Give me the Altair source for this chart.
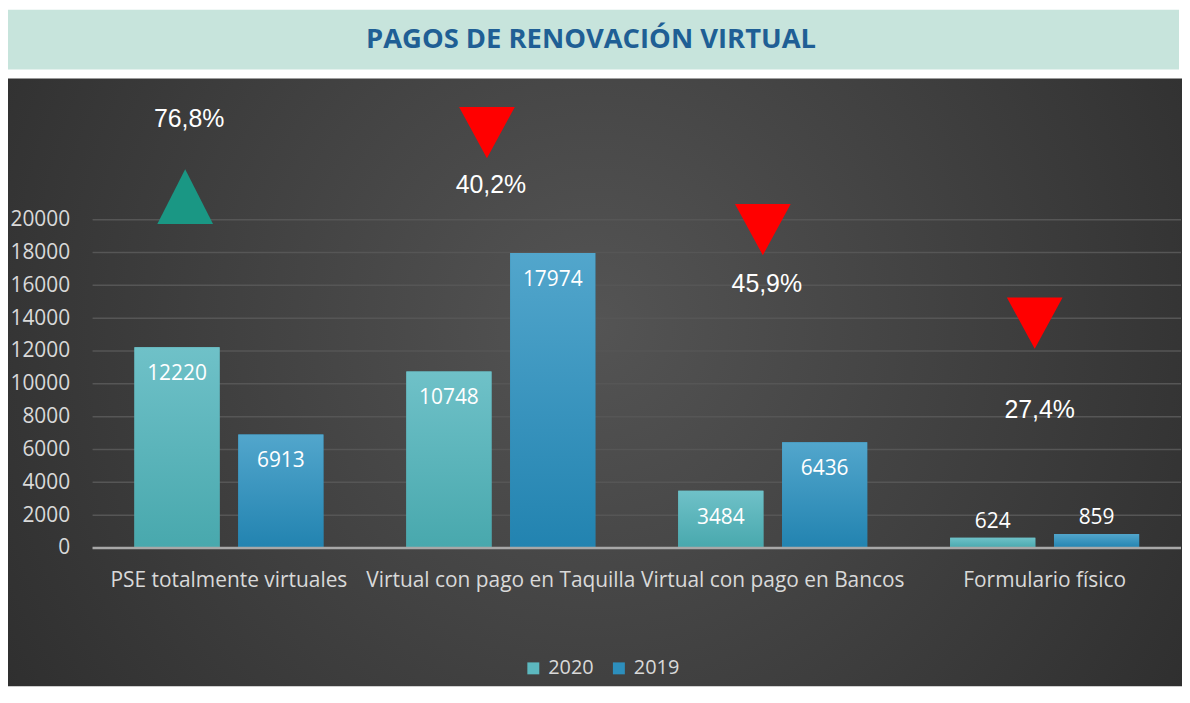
import altair as alt
import pandas as pd

# ---------------- data ----------------
titulo = "PAGOS DE RENOVACIÓN VIRTUAL"
categorias = ["PSE totalmente virtuales", "Virtual con pago en Taquilla",
              "Virtual con pago en Bancos", "Formulario físico"]
series = ["2020", "2019"]
valores_2020 = [12220, 10748, 3484, 624]
valores_2019 = [6913, 17974, 6436, 859]
y_ticks = [0, 2000, 4000, 6000, 8000, 10000, 12000, 14000, 16000, 18000, 20000]

variacion = ["76,8%", "40,2%", "45,9%", "27,4%"]
direccion = ["up", "down", "down", "down"]
# annotation placement (free-floating shapes in the original), px from group start
ann_label_y = [26100, 22100, 16100, 8400]
ann_tri_y = [21400, 25300, 19400, 13700]
ann_label_dx = [55, 85, 89, 90]
ann_tri_dx = [51, 81, 85, 85]

rows = []
for c, a, b in zip(categorias, valores_2020, valores_2019):
    rows.append({"cat": c, "serie": "2020", "valor": a})
    rows.append({"cat": c, "serie": "2019", "valor": b})
df = pd.DataFrame(rows)
ann = pd.DataFrame({"cat": categorias, "pct": variacion, "dir": direccion,
                    "ly": ann_label_y, "ty": ann_tri_y,
                    "ldx": ann_label_dx, "tdx": ann_tri_dx})
grid = pd.DataFrame({"v": y_ticks})

# ---------------- layout ----------------
W, H = 1094, 462
PAD_L, PAD_T, PAD_R, PAD_B = 85, 79, 1, 139
FONT = "Open Sans"
LBL = "#d9d9d9"

x_scale = alt.Scale(domain=categorias, paddingInner=0.305, paddingOuter=0.154)
xo_scale = alt.Scale(type="band", domain=series, paddingInner=0.18, paddingOuter=0)
y_scale = alt.Scale(domain=[0, 28000], nice=False, zero=True)

x_axis = alt.Axis(title=None, labelAngle=0, labelFont=FONT, labelFontSize=21,
                  labelColor=LBL, labelPadding=22, labelLimit=0, labelOverlap=False,
                  domain=False, ticks=False, grid=False, zindex=1)
y_axis = alt.Axis(title=None, values=y_ticks, labelFont=FONT, labelFontSize=21,
                  labelColor=LBL, labelPadding=23, domain=False, ticks=False,
                  grid=False, zindex=1, format="d")

X = alt.X("cat:N", scale=x_scale, axis=x_axis, sort=categorias)
XO = alt.XOffset("serie:N", scale=xo_scale, sort=series)
Y = alt.Y("valor:Q", scale=y_scale, axis=y_axis)

one = alt.Data(values=[{"t": titulo}])

bg = alt.Chart(one).mark_rect(
    fill=alt.RadialGradient(gradient="radial",
                            stops=[alt.GradientStop(offset=0, color="#545454"),
                                   alt.GradientStop(offset=1, color="#252525")],
                            x1=0.5, y1=0.45, r1=0, x2=0.5, y2=0.45, r2=0.75)
).encode(x=alt.value(-PAD_L), x2=alt.value(W + 1), y=alt.value(-10), y2=alt.value(601))

banner = alt.Chart(one).mark_rect(fill="#c7e4dc").encode(
    x=alt.value(-PAD_L), x2=alt.value(1092), y=alt.value(-79), y2=alt.value(-19))

title = alt.Chart(one).mark_text(font=FONT, fontWeight="bold", fontSize=27.5,
                                  color="#1f5f95", baseline="middle", align="center").encode(
    x=alt.value(501), y=alt.value(-49), text="t:N")

gridlines = alt.Chart(grid).mark_rule(color="#565656", strokeWidth=1.5).encode(
    y=alt.Y("v:Q", scale=y_scale, axis=y_axis))

bars = alt.Chart(df).mark_bar().encode(
    x=X, xOffset=XO, y=Y,
    color=alt.Color("serie:N", scale=alt.Scale(domain=series, range=["#5cb8bf", "#2d8fbd"]),
                    legend=alt.Legend(title=None, orient="none", direction="horizontal",
                                      legendX=433, legendY=573, symbolType="square",
                                      symbolSize=144, symbolStrokeWidth=0,
                                      labelFont=FONT, labelFontSize=20, labelColor=LBL,
                                      labelOffset=5, columnPadding=15)))


def grad(top, bottom):
    return alt.LinearGradient(gradient="linear",
                              stops=[alt.GradientStop(offset=0, color=top),
                                     alt.GradientStop(offset=1, color=bottom)],
                              x1=0, x2=0, y1=0, y2=1)


bars20 = alt.Chart(df).mark_bar(color=grad("#6fc1c8", "#48a8ad")).encode(
    x=X, xOffset=XO, y=Y).transform_filter("datum.serie == '2020'")
bars19 = alt.Chart(df).mark_bar(color=grad("#52a6cc", "#2283b0")).encode(
    x=X, xOffset=XO, y=Y).transform_filter("datum.serie == '2019'")

baseline = alt.Chart(one).mark_rule(color="#a8a8a8", strokeWidth=2.5).encode(
    y=alt.datum(0, scale=y_scale))

lab_in = alt.Chart(df).mark_text(font=FONT, fontSize=21, color="white", align="center",
                                 baseline="middle", dy=27).encode(
    x=X, xOffset=XO, y=Y, text="valor:Q").transform_filter("datum.valor >= 2000")
lab_out = alt.Chart(df).mark_text(font=FONT, fontSize=21, color="white", align="center",
                                  baseline="middle", dy=-16).encode(
    x=X, xOffset=XO, y=Y, text="valor:Q").transform_filter("datum.valor < 2000")

up_path = "M-1,0.98L1,0.98L0,-0.98Z"
down_path = "M-1,-0.92L1,-0.92L0,0.92Z"
tris = alt.Chart(ann).mark_point(filled=True, opacity=1, strokeWidth=0, size=3136).encode(
    x=X,
    xOffset=alt.XOffset("tdx:Q", scale=None),
    y=alt.Y("ty:Q", scale=y_scale, axis=y_axis),
    shape=alt.Shape("dir:N", scale=alt.Scale(domain=["up", "down"], range=[up_path, down_path]),
                    legend=None),
    fill=alt.Fill("dir:N", scale=alt.Scale(domain=["up", "down"], range=["#1a9784", "#ff0000"]),
                  legend=None))

pcts = alt.Chart(ann).mark_text(font="Liberation Sans", fontSize=25, color="white",
                                align="center", baseline="middle").encode(
    x=X,
    xOffset=alt.XOffset("ldx:Q", scale=None),
    y=alt.Y("ly:Q", scale=y_scale, axis=y_axis),
    text="pct:N")

chart = alt.layer(bg, banner, title, gridlines, bars, bars20, bars19, baseline,
                  lab_in, lab_out, tris, pcts).resolve_scale(xOffset="independent").properties(
    width=W, height=H, autosize="none",
    padding={"left": PAD_L, "top": PAD_T, "right": PAD_R, "bottom": PAD_B},
).configure(background="white").configure_view(stroke=None)

chart.save("out.html", embed_options={"renderer": "svg", "actions": False})
